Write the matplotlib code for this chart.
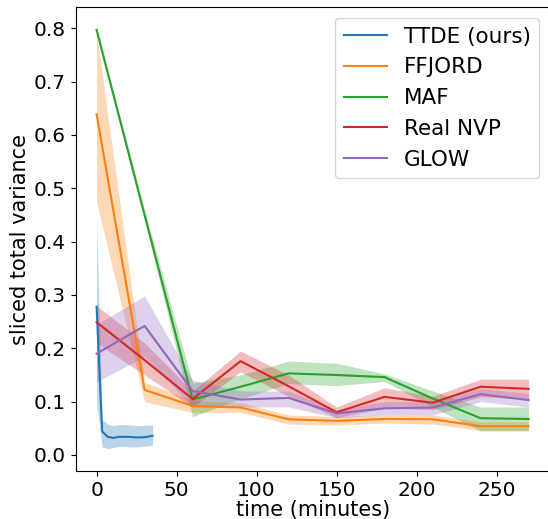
import numpy as np
import matplotlib.pyplot as plt

# TTDE (ours)
ttde_t = [0, 3.5, 7, 10.5, 14, 17.5, 21, 24.5, 28, 31.5, 35]
ttde_mean = [0.278, 0.044, 0.034, 0.032, 0.034, 0.034, 0.034, 0.033, 0.033, 0.034, 0.036]
ttde_lo = [0.10, 0.015, 0.012, 0.014, 0.016, 0.016, 0.015, 0.015, 0.016, 0.017, 0.019]
ttde_hi = [0.44, 0.066, 0.058, 0.055, 0.057, 0.057, 0.056, 0.055, 0.055, 0.056, 0.056]

# baselines, evaluated every 30 minutes
flow_t = [0, 30, 60, 90, 120, 150, 180, 210, 240, 270]

ffjord_mean = [0.639, 0.122, 0.092, 0.089, 0.067, 0.064, 0.0675, 0.067, 0.054, 0.054]
ffjord_lo = [0.475, 0.100, 0.080, 0.080, 0.058, 0.056, 0.060, 0.058, 0.046, 0.046]
ffjord_hi = [0.790, 0.137, 0.102, 0.098, 0.075, 0.072, 0.075, 0.075, 0.062, 0.062]

maf_mean = [0.797, 0.45, 0.104, 0.128, 0.153, 0.150, 0.146, 0.106, 0.069, 0.0675]
maf_lo = [0.790, 0.44, 0.072, 0.105, 0.134, 0.130, 0.138, 0.090, 0.045, 0.045]
maf_hi = [0.803, 0.46, 0.135, 0.150, 0.176, 0.172, 0.152, 0.120, 0.090, 0.090]

rnvp_mean = [0.249, 0.178, 0.105, 0.176, 0.129, 0.080, 0.109, 0.098, 0.128, 0.124]
rnvp_lo = [0.210, 0.150, 0.090, 0.156, 0.110, 0.070, 0.088, 0.085, 0.109, 0.105]
rnvp_hi = [0.280, 0.210, 0.120, 0.195, 0.150, 0.090, 0.126, 0.110, 0.142, 0.142]

glow_mean = [0.190, 0.242, 0.120, 0.104, 0.107, 0.078, 0.0875, 0.089, 0.114, 0.103]
glow_lo = [0.137, 0.185, 0.090, 0.090, 0.090, 0.070, 0.075, 0.075, 0.100, 0.090]
glow_hi = [0.245, 0.298, 0.140, 0.120, 0.120, 0.085, 0.100, 0.100, 0.125, 0.115]

series = [
    ('TTDE (ours)', ttde_t, ttde_mean, ttde_lo, ttde_hi, 'tab:blue'),
    ('FFJORD', flow_t, ffjord_mean, ffjord_lo, ffjord_hi, 'tab:orange'),
    ('MAF', flow_t, maf_mean, maf_lo, maf_hi, 'tab:green'),
    ('Real NVP', flow_t, rnvp_mean, rnvp_lo, rnvp_hi, 'tab:red'),
    ('GLOW', flow_t, glow_mean, glow_lo, glow_hi, 'tab:purple'),
]

fig = plt.figure(figsize=(5.48, 5.19), dpi=100)
ax = fig.add_axes([0.138, 0.0925, 0.866, 0.8935])

for name, t, m, lo, hi, c in series:
    ax.plot(t, m, color=c, lw=1.5, label=name)
    ax.fill_between(t, lo, hi, color=c, alpha=0.3, lw=0)

ax.set_xlim(-13.1, 283.5)
ax.set_ylim(-0.030, 0.8395)
ax.set_xticks([0, 50, 100, 150, 200, 250])
ax.set_yticks(np.arange(0, 0.81, 0.1))
ax.tick_params(labelsize=14.5)
ax.set_xlabel('time (minutes)', fontsize=15, labelpad=0)
ax.set_ylabel('sliced total variance', fontsize=15, labelpad=3)
ax.legend(loc='upper right', fontsize=15.5)

fig.savefig('out.png', dpi=100)
